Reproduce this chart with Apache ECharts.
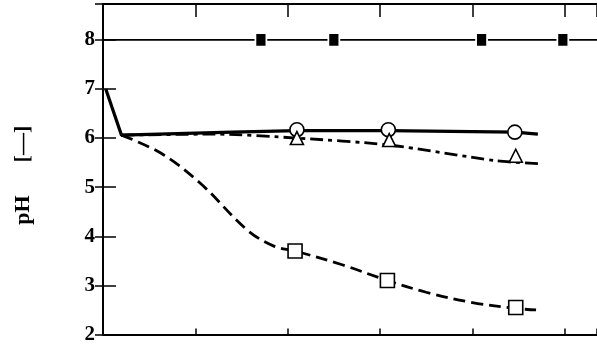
<!DOCTYPE html>
<html>
<head>
<meta charset="utf-8">
<script src="https://cdn.jsdelivr.net/npm/echarts@6/dist/echarts.min.js"></script>
<style>
html,body{margin:0;padding:0;background:#fff;}
#chart{width:597px;height:345px;}
</style>
</head>
<body>
<div id="chart"></div>
<script>
// data (x in tick units, y = pH)
var xMin = 0, xMax = 5.35;
var yMin = 2, yMax = 8.73;
var topLine = [[0,8],[1.71,8],[2.5,8],[4.1,8],[4.98,8],[5.35,8]];
var topMarks = [[1.71,8],[2.5,8],[4.1,8],[4.98,8]];
var solidLine = [[0.03,7.0],[0.2,6.06],[0.8,6.09],[1.4,6.12],[2.1,6.15],[3.09,6.15],[4.46,6.12],[4.71,6.08]];
var circleMarks = [[2.1,6.17],[3.09,6.17],[4.46,6.12]];
var dashDotLine = [[0.2,6.06],[1.2,6.08],[2.1,6.0],[3.09,5.86],[4.25,5.54],[4.71,5.48]];
var triMarks = [[2.1,6.0],[3.1,5.96],[4.47,5.64]];
var dashLine = [[0.2,6.06],[0.63,5.69],[1.06,5.07],[1.56,4.13],[1.85,3.8],[2.08,3.7],[2.59,3.42],[3.08,3.1],[3.5,2.86],[4.0,2.65],[4.47,2.53],[4.69,2.5]];
var squareMarks = [[2.08,3.7],[3.08,3.1],[4.47,2.55]];

var chart = echarts.init(document.getElementById('chart'));
var font = 'Liberation Serif';
var axLine = {show:true, lineStyle:{color:'#000', width:2}};

function markSeries(data, sym, size, fill){
    return {
        type:'scatter', data:data, symbol:sym, symbolSize:size, z:5,
        itemStyle:{color:fill, borderColor:fill=='#000'?'#fff':'#000', borderWidth:fill=='#000'?2:1.6, opacity:1},
        silent:true
    };
}
function lineSeries(data, width, dash, smooth){
    return {
        type:'line', data:data, symbol:'none', smooth:smooth, z:3,
        lineStyle:{color:'#000', width:width, type:dash}, silent:true
    };
}

chart.setOption({
    backgroundColor:'#fff',
    animation:false,
    grid:{left:103, right:-4, top:4, bottom:8},
    xAxis:[
        {type:'value', min:xMin, max:xMax, interval:1, position:'bottom',
         axisLine:axLine, axisTick:{inside:true, length:6, lineStyle:{color:'#000', width:1.5}},
         axisLabel:{show:false}, splitLine:{show:false}},
        {type:'value', min:xMin, max:xMax, interval:1, position:'top',
         axisLine:axLine, axisTick:{inside:true, length:13, lineStyle:{color:'#000', width:1.5}},
         axisLabel:{show:false}, splitLine:{show:false}}
    ],
    yAxis:[
        {type:'value', min:yMin, max:yMax, interval:1, position:'left',
         name:'pH\u2003\u2002[\u2014]', nameLocation:'middle', nameGap:69, nameRotate:90,
         nameTextStyle:{fontFamily:font, fontWeight:'bold', fontSize:22, color:'#000', padding:[0,12,0,0]},
         axisLine:axLine, axisTick:{inside:true, length:13, lineStyle:{color:'#000', width:1.5}},
         axisLabel:{fontFamily:font, fontWeight:'bold', fontSize:21, color:'#000', margin:8,
                    formatter:function(v){ return v > 8.5 ? '' : v; }},
         splitLine:{show:false}},
        {type:'value', min:yMin, max:yMax, interval:1, position:'right',
         axisLine:axLine, axisTick:{inside:true, length:8, lineStyle:{color:'#000', width:1.5}},
         axisLabel:{show:false}, splitLine:{show:false}}
    ],
    series:[
        lineSeries(topLine, 1.8, 'solid', false),
        lineSeries(dashLine, 2.8, [12,6], 0.35),
        lineSeries(dashDotLine, 2.8, [13,5,4,5], 0.25),
        lineSeries(solidLine, 3.2, 'solid', false),
        markSeries(topMarks, 'rect', [11,14], '#000'),
        markSeries(circleMarks, 'circle', 14, '#fff'),
        markSeries(triMarks, 'triangle', 13, '#fff'),
        markSeries(squareMarks, 'rect', 14, '#fff')
    ]
});
</script>
</body>
</html>
